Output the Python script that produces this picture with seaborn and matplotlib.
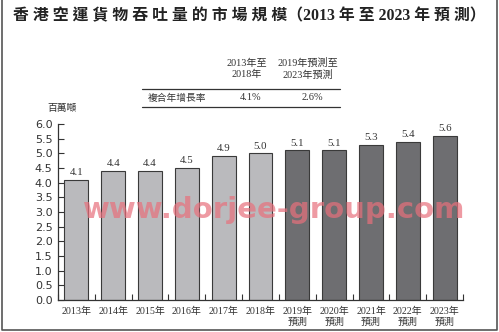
import matplotlib
matplotlib.use("Agg")
import matplotlib.pyplot as plt
import seaborn as sns
import pandas as pd
from matplotlib.lines import Line2D

sns.set_style("ticks")
plt.rcParams['font.family'] = ['Noto Sans CJK TC', 'DejaVu Sans']

categories = ["2013年", "2014年", "2015年", "2016年", "2017年", "2018年",
              "2019年\n預測", "2020年\n預測", "2021年\n預測", "2022年\n預測", "2023年\n預測"]
values = [4.1, 4.4, 4.4, 4.5, 4.9, 5.0, 5.1, 5.1, 5.3, 5.4, 5.6]
phase = ["歷史"] * 6 + ["預測"] * 5
title = "香 港 空 運 貨 物 吞 吐 量 的 市 場 規 模（2013 年 至 2023 年 預 測）"
unit = "百萬噸"
cagr_headers = ["2013年至\n2018年", "2019年預測至\n2023年預測"]
cagr_label = "複合年增長率"
cagr_values = ["4.1%", "2.6%"]
watermark = "www.dorjee-group.com"

df = pd.DataFrame({"year": categories, "value": values, "phase": phase})

fig = plt.figure(figsize=(4.99, 3.32), dpi=100)
ax = fig.add_axes([0.1162, 0.0964, 0.8118, 0.5301])

sns.barplot(data=df, x="year", y="value", hue="phase", order=categories,
            palette={"歷史": "#b9b9bd", "預測": "#6e6e71"}, dodge=False,
            legend=False, width=0.65, edgecolor="#3a3a3a", linewidth=0.8, ax=ax)

serif = ['Liberation Serif', 'Noto Sans CJK TC']
for c in ax.containers:
    ax.bar_label(c, fmt="%.1f", padding=2, fontsize=7.8, family=serif, color="#333333")

ax.set_xlim(-0.5, 10.5)
ax.set_ylim(0, 6)
ax.set_yticks([i * 0.5 for i in range(13)])
ax.set_yticklabels([f"{i*0.5:.1f}" for i in range(13)], fontsize=8, family=['DejaVu Sans'], color="#333333")
ax.set_xticks(range(len(categories)))
ax.set_xticklabels(categories, fontsize=7.2, family=serif, color="#333333", linespacing=1.3)
ax.set_xticks([i + 0.5 for i in range(-1, 11)], minor=True)
ax.tick_params(axis="x", which="major", length=0, pad=5)
ax.tick_params(axis="x", which="minor", direction="in", length=4, width=0.8, color="#333333")
ax.tick_params(axis="y", direction="in", length=4, width=0.8, color="#333333", pad=4)
ax.set_xlabel("")
ax.set_ylabel("")
for s in ["top", "right"]:
    ax.spines[s].set_visible(False)
for s in ["left", "bottom"]:
    ax.spines[s].set_color("#333333")
    ax.spines[s].set_linewidth(0.9)

# title
fig.text(0.5, 0.952, title, ha="center", va="center", fontsize=11.4, fontweight="bold",
         color="#222222", family=serif)

# unit
fig.text(0.125, 0.675, unit, ha="center", va="center", fontsize=7, color="#333333")

# CAGR table
fig.text(0.495, 0.792, cagr_headers[0], ha="center", va="center", fontsize=7.3,
         color="#333333", family=serif, linespacing=1.25)
fig.text(0.617, 0.792, cagr_headers[1], ha="center", va="center", fontsize=7.3,
         color="#333333", family=serif, linespacing=1.25)
fig.add_artist(Line2D([0.285, 0.681], [0.732, 0.732], color="#333333", lw=0.9))
fig.text(0.355, 0.705, cagr_label, ha="center", va="center", fontsize=7, color="#333333")
fig.text(0.503, 0.705, cagr_values[0], ha="center", va="center", fontsize=7.5, color="#333333", family=serif)
fig.text(0.627, 0.705, cagr_values[1], ha="center", va="center", fontsize=7.5, color="#333333", family=serif)
fig.add_artist(Line2D([0.285, 0.681], [0.678, 0.678], color="#333333", lw=0.9))

# watermark
fig.text(0.55, 0.367, watermark, ha="center", va="center", fontsize=21,
         fontweight="bold", color="#e8707c", alpha=0.7, family=['DejaVu Sans'])

# frame
fig.add_artist(Line2D([0.004, 0.004, 0.996, 0.996], [0.999, 0.007, 0.007, 0.999],
                      color="#555555", lw=1.2))

fig.savefig("out.png", dpi=100)
